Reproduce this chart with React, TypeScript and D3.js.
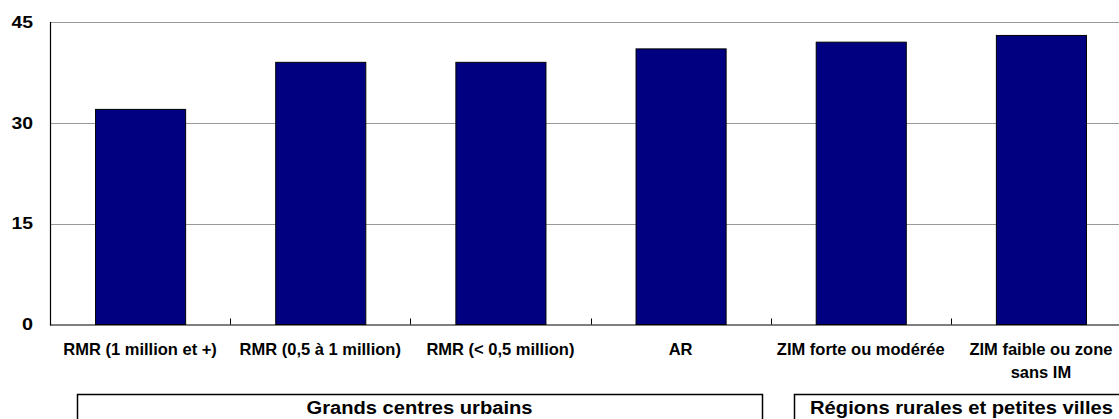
import React from "react";
import * as d3 from "d3";

const categories: string[][] = [
  ["RMR (1 million et +)"],
  ["RMR (0,5 à 1 million)"],
  ["RMR (< 0,5 million)"],
  ["AR"],
  ["ZIM forte ou modérée"],
  ["ZIM faible ou zone", "sans IM"],
];
const values: number[] = [32, 39, 39, 41, 42, 43];
const yTicks: number[] = [0, 15, 30, 45];
const groups = [
  { label: "Grands centres urbains", from: 0, to: 3 },
  { label: "Régions rurales et petites villes", from: 4, to: 5 },
];

const W = 1119;
const H = 419;
const left = 50;
const right = 1131;
const top = 22;
const bottom = 324.5;

export default function App() {
  const keys = categories.map((c) => c.join(" "));
  const x = d3.scaleBand<string>().domain(keys).range([left, right]).paddingInner(0.5).paddingOuter(0.25);
  const y = d3.scaleLinear().domain([0, 45]).range([bottom, top]);
  const step = x.step();
  const font = "'Liberation Sans', Arial, sans-serif";
  const cx = (i: number) => (x(keys[i]) as number) + x.bandwidth() / 2;

  return (
    <svg width={W} height={H} style={{ position: "absolute", left: 0, top: 0, background: "#fff" }}>
      <rect x={0} y={0} width={W} height={H} fill="#fff" />
      {yTicks.filter((t) => t > 0).map((t) => (
        <line key={t} x1={left} x2={right} y1={Math.round(y(t)) + 0.5} y2={Math.round(y(t)) + 0.5} stroke="#999" strokeWidth={1} />
      ))}
      {values.map((v, i) => (
        <rect
          key={i}
          x={(x(keys[i]) as number) + 0.5}
          y={y(v)}
          width={x.bandwidth()}
          height={bottom - y(v)}
          fill="#000080"
          stroke="#000"
          strokeWidth={1}
        />
      ))}
      <line x1={left + 0.5} x2={left + 0.5} y1={top} y2={bottom + 1} stroke="#000" strokeWidth={1.2} />
      <line x1={left} x2={right} y1={bottom + 0.5} y2={bottom + 0.5} stroke="#000" strokeWidth={1.2} />
      {keys.slice(1).map((k, i) => {
        const xx = Math.round(left + step * (i + 1)) + 0.5;
        return <line key={k} x1={xx} x2={xx} y1={bottom - 6} y2={bottom} stroke="#000" strokeWidth={1} />;
      })}
      {yTicks.map((t) => (
        <text
          key={t}
          x={33}
          y={y(t)}
          dy="0.36em"
          textAnchor="end"
          fontFamily={font}
          fontWeight="bold"
          fontSize={16}
          textLength={t === 0 ? 11 : 21.5}
          lengthAdjust="spacingAndGlyphs"
          fill="#000"
        >
          {t}
        </text>
      ))}
      {categories.map((lines, i) => (
        <text key={i} textAnchor="middle" fontFamily={font} fontWeight="bold" fontSize={16.5} fill="#000">
          {lines.map((ln, j) => (
            <tspan key={j} x={cx(i)} y={355 + j * 23}>
              {ln}
            </tspan>
          ))}
        </text>
      ))}
      {groups.map((g, gi) => {
        const x0 = gi === 0 ? 77 : 794;
        const x1 = gi === 0 ? 762 : 1129;
        const tl = gi === 0 ? 226 : 303;
        return (
          <g key={g.label}>
            <path d={`M${x0 + 0.5},${H + 5}V394.5H${x1 + 0.5}V${H + 5}`} fill="none" stroke="#000" strokeWidth={1.5} />
            <text
              x={(x0 + x1) / 2}
              y={414}
              textAnchor="middle"
              fontFamily={font}
              fontWeight="bold"
              fontSize={17.5}
              textLength={tl}
              lengthAdjust="spacingAndGlyphs"
              fill="#000"
            >
              {g.label}
            </text>
          </g>
        );
      })}
    </svg>
  );
}
